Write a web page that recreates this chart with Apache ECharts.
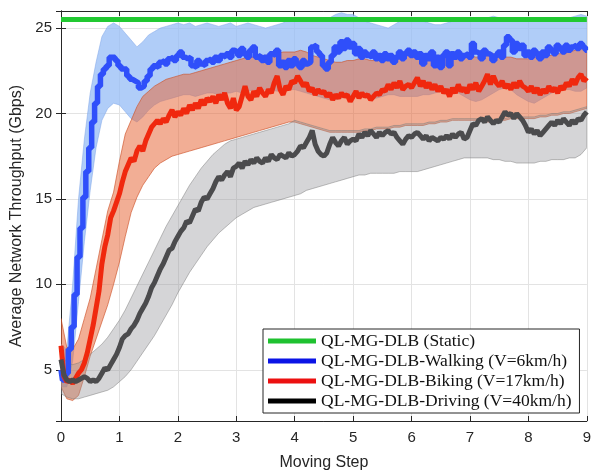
<!DOCTYPE html>
<html>
<head>
<meta charset="utf-8">
<script src="https://cdn.jsdelivr.net/npm/echarts@6/dist/echarts.min.js"></script>
<style>
  html, body { margin: 0; padding: 0; background: #fff; }
  #chart { width: 594px; height: 476px; }
</style>
</head>
<body>
<div id="chart"></div>
<script>
// Sample spacing along "Moving Step" for the mean curves and the spread bands.
const MEAN_STEP = 0.05;
const BAND_STEP = 0.1;

// Static reference level (Gbps)
const staticX = [0, 9];
const staticY = [25.5, 25.5];

// Mean throughput, one value per 0.05 step (rows of 10 = 0.5 step)
const walkingMean = [
  5.0, 4.4, 4.8, 6.2, 7.5, 9.4, 11.6, 13.3, 15.1, 16.6,
  18.0, 19.5, 20.6, 21.6, 22.3, 22.6, 22.8, 23.3, 23.3, 23.1,
  22.8, 22.6, 22.6, 22.2, 22.0, 21.9, 21.8, 21.5, 21.6, 21.9,
  22.2, 22.6, 22.8, 22.7, 23.0, 23.1, 22.9, 23.2, 23.3, 23.1,
  23.4, 23.6, 23.3, 23.2, 23.3, 22.8, 22.7, 23.1, 22.9, 22.8,
  23.1, 23.2, 23.0, 23.3, 23.1, 23.4, 23.3, 23.5, 23.3, 23.7,
  23.6, 23.4, 23.8, 23.5, 23.3, 23.7, 23.9, 23.3, 23.4, 23.1,
  23.3, 23.0, 23.5, 23.4, 23.7, 22.8, 23.0, 22.7, 23.1, 22.8,
  23.2, 22.9, 22.7, 23.1, 22.9, 23.0, 23.9, 24.0, 23.6, 23.4,
  22.8, 22.6, 23.0, 23.4, 23.9, 23.6, 24.2, 23.8, 24.3, 23.9,
  24.1, 23.5, 23.8, 23.3, 23.6, 23.4, 23.3, 23.6, 23.2, 23.4,
  23.1, 23.5, 23.2, 23.4, 23.0, 23.3, 23.6, 23.2, 23.5, 23.7,
  23.4, 23.6, 23.3, 23.5, 22.9, 23.4, 23.2, 23.6, 22.8, 23.3,
  22.7, 23.4, 23.6, 22.8, 23.5, 23.3, 23.6, 23.2, 23.4, 23.5,
  23.3, 24.1, 23.6, 23.5, 23.2, 23.7, 23.5, 23.4, 23.1, 23.4,
  23.6, 23.3, 24.0, 24.5, 24.3, 23.6, 24.1, 23.8, 24.0, 23.4,
  23.6, 23.3, 23.7, 23.5, 23.2, 23.6, 23.4, 23.9, 23.7, 23.5,
  24.0, 23.8, 23.6, 24.0, 23.7, 23.9, 24.0, 23.8, 24.1, 23.9,
  23.7
];

const bikingMean = [
  6.4, 4.6, 4.3, 4.4, 4.2, 4.5, 4.8, 5.0, 5.4, 6.0,
  6.8, 7.6, 8.6, 9.6, 11.2, 12.2, 12.9, 13.9, 14.3, 14.8,
  15.3, 16.0, 16.6, 17.0, 17.4, 17.2, 17.8, 18.1, 17.8, 18.4,
  18.8, 19.2, 19.4, 19.6, 19.4, 19.7, 19.5, 19.9, 20.2, 19.8,
  20.1, 19.9, 20.3, 20.0, 20.5, 20.2, 20.6, 20.3, 20.8, 20.5,
  20.9, 20.7, 21.0, 20.6, 21.1, 20.8, 21.2, 20.6, 20.3, 20.9,
  20.2, 20.4, 21.0, 21.6, 21.0, 20.8, 21.3, 21.0, 21.5, 21.2,
  21.0, 21.4, 21.2, 21.8, 22.2, 21.4, 21.1, 21.6, 21.4, 21.9,
  21.8, 22.2, 21.9, 21.6, 21.8, 21.3, 21.5, 21.1, 21.4, 21.2,
  21.3, 21.0, 21.2, 20.8, 21.1, 20.9, 21.2, 21.0, 21.1, 20.7,
  21.0, 21.3, 20.9, 21.2, 21.0, 21.1, 20.8, 21.0, 21.2, 21.1,
  21.4, 21.3, 21.7, 21.4, 21.8, 21.5, 21.9, 21.4, 21.6, 21.7,
  21.5, 21.8, 22.1, 21.6, 21.9, 21.5, 21.8, 21.4, 21.7, 21.3,
  21.6, 21.2, 21.4, 21.0, 21.5, 21.2, 21.7, 21.3, 21.5, 21.2,
  21.7, 21.4, 21.8, 21.3, 21.6, 21.9, 22.3, 21.7, 22.2, 21.8,
  21.6, 21.9, 21.5, 21.7, 21.4, 21.8, 21.5, 21.9, 21.6, 21.5,
  21.3, 21.6, 21.2, 21.5, 21.1, 21.4, 21.2, 21.6, 21.3, 21.5,
  21.2, 21.6, 21.4, 21.8, 21.6, 22.0, 21.7, 22.1, 22.3, 21.9,
  22.1
];

const drivingMean = [
  5.6, 4.7, 4.4, 4.3, 4.4, 4.3, 4.4, 4.5, 4.6, 4.5,
  4.3, 4.4, 4.3, 4.5, 4.8, 5.1, 5.0, 5.3, 5.6, 5.9,
  6.3, 6.8, 7.0, 7.1, 7.4, 7.6, 7.9, 8.3, 8.6, 8.9,
  9.3, 9.8, 10.1, 10.5, 10.9, 11.2, 11.6, 12.0, 12.1, 12.5,
  12.8, 13.1, 13.3, 13.7, 13.6, 14.0, 14.4, 14.3, 14.8, 15.1,
  15.0, 15.3, 15.6, 16.0, 16.3, 16.1, 16.4, 16.6, 16.3, 16.8,
  16.9, 17.1, 16.8, 17.2, 17.0, 17.3, 17.1, 17.4, 17.2, 17.1,
  17.4, 17.2, 17.6, 17.4, 17.3, 17.6, 17.5, 17.4, 17.7, 17.5,
  17.6, 17.8, 18.1, 18.0, 18.3, 18.6, 19.0, 18.2, 17.8, 17.6,
  17.5, 17.7, 18.2, 18.6, 18.3, 18.1, 18.4, 18.6, 18.2, 18.4,
  18.5, 18.4, 18.8, 18.6, 18.9, 18.7, 19.0, 18.8, 18.6, 18.9,
  18.7, 18.9, 19.0, 18.8, 18.9, 18.6, 18.4, 18.2, 18.5, 18.7,
  18.6, 18.8, 18.9, 18.7, 18.5, 18.7, 18.4, 18.6, 18.5, 18.4,
  18.6, 18.5, 18.7, 18.5, 18.8, 18.6, 18.8, 18.9, 18.5, 18.6,
  19.0, 19.4, 19.3, 19.6, 19.7, 19.5, 19.8, 19.6, 19.4, 19.6,
  19.5, 19.8, 20.1, 19.9, 20.0, 19.7, 20.0, 19.8, 19.6, 19.3,
  18.9, 19.1, 18.8, 19.0, 18.7, 18.9, 19.1, 19.3, 19.5, 19.3,
  19.6, 19.4, 19.7, 19.5, 19.3, 19.6, 19.4, 19.7, 19.6, 19.9,
  20.1
];

// Spread bands, one value per 0.1 step (rows of 10 = 1 step)
const walkingUpper = [
  6.5, 6.2, 10.0, 15.0, 18.5, 21.2, 23.0, 24.5, 25.1, 25.3,
  25.1, 24.7, 24.3, 23.9, 24.2, 24.6, 24.8, 25.0, 25.1, 25.2,
  25.3, 25.2, 25.3, 25.1, 25.2, 25.3, 25.2, 25.1, 25.2, 25.3,
  25.1, 25.2, 25.3, 25.2, 25.1, 25.0, 25.1, 25.2, 25.3, 25.5,
  25.5, 25.6, 25.5, 25.4, 25.5, 25.5, 25.6, 25.8, 25.9, 25.8,
  25.8, 25.6, 25.4, 25.3, 25.2, 25.1, 25.0, 25.2, 25.4, 25.5,
  25.4, 25.5, 25.4, 25.3, 25.2, 25.2, 25.3, 25.4, 25.5, 25.5,
  25.5, 25.6, 25.5, 25.6, 25.7, 25.6, 25.5, 25.4, 25.4, 25.5,
  25.4, 25.4, 25.5, 25.5, 25.5, 25.6, 25.5, 25.6, 25.7, 25.8,
  25.7
];
const walkingLower = [
  4.0, 4.0, 5.5, 9.0, 12.5, 15.5, 18.0, 19.6, 20.3, 20.6,
  20.5, 20.1, 19.7, 19.5, 19.8, 20.2, 20.5, 20.7, 20.8, 20.9,
  21.0, 21.1, 21.1, 21.0, 21.1, 21.2, 21.2, 21.1, 21.2, 21.2,
  21.3, 21.2, 21.3, 21.4, 21.3, 21.4, 21.4, 21.3, 21.4, 21.4,
  21.4, 21.3, 21.2, 21.1, 21.0, 20.9, 20.8, 20.8, 20.9, 21.0,
  21.0, 21.1, 21.0, 20.9, 20.9, 21.0, 21.1, 21.1, 21.0, 21.0,
  21.0, 21.0, 21.1, 21.1, 21.2, 21.3, 21.4, 21.3, 21.2, 21.0,
  20.8, 20.7, 20.8, 21.0, 21.2, 21.4, 21.5, 21.4, 21.1, 20.9,
  20.7, 20.6, 20.8, 21.0, 21.2, 21.3, 21.4, 21.4, 21.3, 21.3,
  21.5
];
const bikingUpper = [
  8.0, 6.3, 6.2, 6.8, 8.0, 9.2, 10.9, 12.6, 14.3, 15.4,
  17.2, 18.8, 19.6, 20.4, 21.0, 21.3, 21.6, 21.8, 22.0, 22.1,
  22.2, 22.3, 22.3, 22.4, 22.5, 22.6, 22.7, 22.8, 22.9, 23.0,
  23.1, 23.2, 23.3, 23.3, 23.4, 23.4, 23.5, 23.5, 23.6, 23.6,
  23.6, 23.7, 23.6, 23.4, 23.3, 23.2, 23.1, 23.0, 23.0, 23.1,
  23.1, 23.2, 23.2, 23.1, 23.1, 23.2, 23.2, 23.3, 23.3, 23.4,
  23.4, 23.5, 23.5, 23.5, 23.4, 23.4, 23.4, 23.5, 23.5, 23.4,
  23.4, 23.3, 23.3, 23.4, 23.5, 23.4, 23.3, 23.3, 23.2, 23.2,
  23.2, 23.3, 23.3, 23.4, 23.4, 23.5, 23.5, 23.6, 23.7, 23.8,
  23.9
];
const bikingLower = [
  4.0, 3.3, 3.2, 3.5, 4.6, 5.8, 6.8, 7.8, 8.8, 10.0,
  11.3, 12.8, 14.2, 15.1, 15.8, 16.3, 16.8, 17.1, 17.3, 17.5,
  17.6, 17.7, 17.8, 17.9, 18.0, 18.1, 18.2, 18.3, 18.4, 18.5,
  18.6, 18.7, 18.8, 18.9, 19.0, 19.1, 19.2, 19.3, 19.4, 19.5,
  19.5, 19.4, 19.3, 19.2, 19.1, 19.0, 18.9, 18.9, 18.9, 18.9,
  18.9, 18.9, 19.0, 19.0, 19.1, 19.1, 19.1, 19.2, 19.2, 19.3,
  19.3, 19.3, 19.3, 19.4, 19.4, 19.5, 19.5, 19.6, 19.6, 19.6,
  19.6, 19.6, 19.6, 19.5, 19.5, 19.6, 19.6, 19.7, 19.7, 19.7,
  19.7, 19.7, 19.8, 19.8, 19.9, 19.9, 20.0, 20.0, 20.1, 20.2,
  20.3
];
const drivingUpper = [
  6.0, 5.4, 5.3, 5.4, 5.6, 5.9, 6.2, 6.5, 6.9, 7.4,
  7.9, 8.5, 9.2, 9.9, 10.6, 11.3, 12.0, 12.7, 13.4, 14.0,
  14.6, 15.2, 15.8, 16.3, 16.8, 17.2, 17.6, 17.9, 18.2, 18.4,
  18.5, 18.6, 18.7, 18.8, 18.9, 19.0, 19.1, 19.2, 19.3, 19.4,
  19.6, 19.5, 19.4, 19.3, 19.2, 19.1, 19.0, 19.0, 19.0, 19.0,
  19.0, 19.0, 19.1, 19.1, 19.2, 19.2, 19.2, 19.3, 19.3, 19.4,
  19.4, 19.4, 19.4, 19.5, 19.5, 19.6, 19.6, 19.7, 19.7, 19.7,
  19.7, 19.7, 19.7, 19.6, 19.6, 19.7, 19.7, 19.8, 19.8, 19.8,
  19.8, 19.8, 19.9, 19.9, 20.0, 20.0, 20.1, 20.1, 20.2, 20.3,
  20.4
];
const drivingLower = [
  3.6, 3.4, 3.3, 3.3, 3.4, 3.5, 3.6, 3.7, 3.8, 4.0,
  4.3, 4.6, 5.0, 5.5, 6.0, 6.5, 7.0, 7.6, 8.2, 8.8,
  9.5, 10.1, 10.7, 11.2, 11.7, 12.2, 12.6, 13.0, 13.3, 13.6,
  13.9, 14.1, 14.3, 14.5, 14.6, 14.7, 14.8, 14.9, 15.0, 15.1,
  15.2, 15.3, 15.5, 15.6, 15.7, 15.8, 15.9, 16.0, 16.1, 16.2,
  16.3, 16.4, 16.4, 16.5, 16.5, 16.5, 16.5, 16.5, 16.6, 16.6,
  16.6, 16.6, 16.7, 16.8, 16.9, 17.0, 17.1, 17.2, 17.3, 17.4,
  17.4, 17.4, 17.4, 17.4, 17.3, 17.3, 17.2, 17.2, 17.1, 17.1,
  17.1, 17.1, 17.2, 17.2, 17.3, 17.3, 17.3, 17.4, 17.4, 17.6,
  18.0
];

const seriesNames = [
  'QL-MG-DLB (Static)',
  'QL-MG-DLB-Walking (V=6km/h)',
  'QL-MG-DLB-Biking (V=17km/h)',
  'QL-MG-DLB-Driving (V=40km/h)'
];

const SANS = 'Liberation Sans, Arial, sans-serif';
const SERIF = 'Liberation Serif, Times New Roman, serif';
const INK = '#262626';

// [x, y] pairs along the step grid
function pairs(values, step) {
  return values.map((v, i) => [+(i * step).toFixed(2), v]);
}

// Shaded spread: polygon running along the upper edge and back along the lower edge
function band(id, lower, upper, fill, edge) {
  return {
    name: id + '-spread',
    type: 'custom',
    silent: true,
    clip: true,
    data: [[0, lower[0]]],
    encode: { x: 0, y: 1 },
    renderItem: function (params, api) {
      const top = upper.map((u, i) => api.coord([i * BAND_STEP, u]));
      const bottom = lower.map((l, i) => api.coord([i * BAND_STEP, l])).reverse();
      return {
        type: 'polygon',
        shape: { points: top.concat(bottom) },
        style: { fill: fill, stroke: edge, lineWidth: 0.8 }
      };
    }
  };
}

const chart = echarts.init(document.getElementById('chart'), null, { renderer: 'canvas' });

const commonX = {
  type: 'value', min: 0, max: 9, interval: 1,
  axisLine: { show: true, lineStyle: { color: INK, width: 1 } },
  axisTick: { show: true, inside: true, length: 5, lineStyle: { color: INK } }
};
const commonY = {
  type: 'value', min: 2, max: 26, splitNumber: 5,
  axisLine: { show: true, lineStyle: { color: INK, width: 1 } },
  axisTick: { show: true, inside: true, length: 5, lineStyle: { color: INK } }
};

chart.setOption({
  animation: false,
  backgroundColor: '#fff',
  grid: { left: 61, right: 6, top: 11, bottom: 50, containLabel: false },
  xAxis: [
    Object.assign({}, commonX, {
      position: 'bottom',
      axisLabel: { color: INK, fontFamily: SANS, fontSize: 15, margin: 9 },
      splitLine: { show: true, lineStyle: { color: '#e3e3e3', width: 1 } },
      name: 'Moving Step', nameLocation: 'middle', nameGap: 34,
      nameTextStyle: { color: INK, fontFamily: SANS, fontSize: 16 }
    }),
    Object.assign({}, commonX, {
      position: 'top',
      axisLabel: { show: false },
      splitLine: { show: false }
    })
  ],
  yAxis: [
    Object.assign({}, commonY, {
      position: 'left',
      axisLabel: { color: INK, fontFamily: SANS, fontSize: 15, margin: 9, showMinLabel: false, showMaxLabel: false },
      splitLine: { show: true, lineStyle: { color: '#e3e3e3', width: 1 } },
      name: 'Average Network Throughput (Gbps)', nameLocation: 'middle', nameGap: 22,
      nameRotate: 90,
      nameTextStyle: { color: INK, fontFamily: SANS, fontSize: 16 }
    }),
    Object.assign({}, commonY, {
      position: 'right',
      axisLabel: { show: false },
      splitLine: { show: false }
    })
  ],
  legend: {
    orient: 'vertical',
    left: 263, top: 329,
    icon: 'rect', itemWidth: 48, itemHeight: 5, itemGap: 0,
    padding: [2, 8, 2, 5],
    backgroundColor: '#fff',
    borderColor: INK, borderWidth: 1, borderRadius: 0,
    textStyle: { fontFamily: SERIF, fontSize: 17.5, color: '#111', lineHeight: 20 },
    data: [
      { name: seriesNames[0], itemStyle: { color: '#1fc130' } },
      { name: seriesNames[1], itemStyle: { color: '#0b14e6' } },
      { name: seriesNames[2], itemStyle: { color: '#ec1010' } },
      { name: seriesNames[3], itemStyle: { color: '#000000' } }
    ]
  },
  series: [
    {
      name: seriesNames[0], type: 'line', symbol: 'none',
      data: staticX.map((x, i) => [x, staticY[i]]),
      lineStyle: { color: '#22c932', width: 5 },
      itemStyle: { color: '#22c932' }
    },
    band('walk', walkingLower, walkingUpper, 'rgba(150,188,245,0.75)', 'rgba(120,160,230,0.6)'),
    {
      name: seriesNames[1], type: 'line', symbol: 'none', step: 'middle',
      data: pairs(walkingMean, MEAN_STEP),
      lineStyle: { color: '#2f4ffa', width: 5.5 },
      itemStyle: { color: '#2f4ffa' }
    },
    band('bike', bikingLower, bikingUpper, 'rgba(232,108,62,0.55)', 'rgba(205,80,40,0.8)'),
    {
      name: seriesNames[2], type: 'line', symbol: 'none',
      data: pairs(bikingMean, MEAN_STEP),
      lineStyle: { color: '#f0280e', width: 5 },
      itemStyle: { color: '#f0280e' }
    },
    band('drive', drivingLower, drivingUpper, 'rgba(150,150,155,0.4)', 'rgba(120,120,120,0.6)'),
    {
      name: seriesNames[3], type: 'line', symbol: 'none',
      data: pairs(drivingMean, MEAN_STEP),
      lineStyle: { color: '#4b4b4d', width: 5 },
      itemStyle: { color: '#4b4b4d' }
    }
  ]
});
</script>
</body>
</html>
